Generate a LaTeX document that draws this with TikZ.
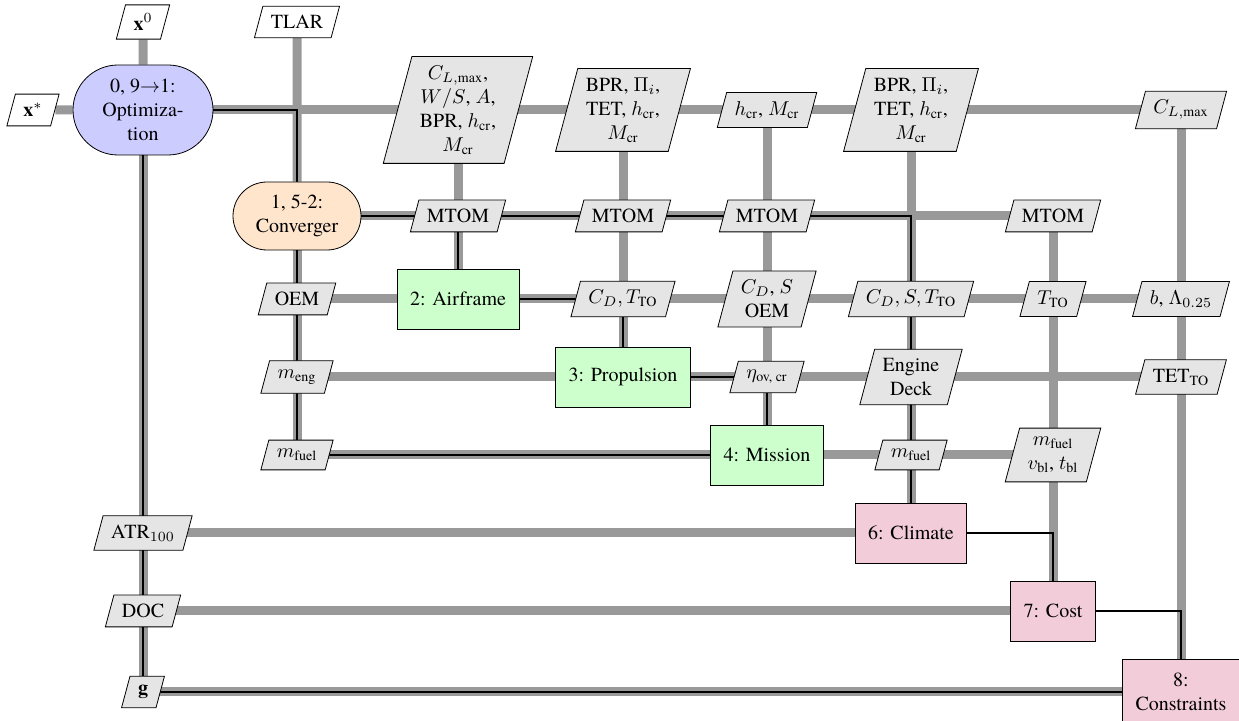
\documentclass[tikz,border=0pt]{standalone}
\usepackage{amsmath}
\usepackage{fontspec}
\IfFontExistsTF{texgyretermes-regular.otf}{%
  \setmainfont{texgyretermes-regular.otf}[BoldFont=texgyretermes-bold.otf,
    ItalicFont=texgyretermes-italic.otf, BoldItalicFont=texgyretermes-bolditalic.otf]}{}
\usepackage{tikz}
\usetikzlibrary{shapes.geometric, shapes.misc, backgrounds}

\colorlet{optblue}{blue!20}
\colorlet{convorange}{orange!20}
\colorlet{funcgreen}{green!20}
\colorlet{postpink}{purple!20}
\colorlet{datagray}{black!10}
\colorlet{linegray}{black!40}

\tikzset{
  optim/.style={rounded rectangle, draw, fill=optblue, align=center,
                minimum width=74pt, minimum height=45pt, inner sep=2pt},
  solver/.style={rounded rectangle, draw, fill=convorange, align=center,
                 minimum width=68pt, minimum height=34pt, inner sep=2pt},
  func/.style={rectangle, draw, fill=funcgreen, align=center,
               minimum height=30pt, inner xsep=6.5pt},
  post/.style={func, fill=postpink},
  datainter/.style={trapezium, trapezium left angle=75, trapezium right angle=105,
                    draw, fill=datagray, align=center, inner xsep=4pt, inner ysep=4.5pt},
  dataio/.style={datainter, fill=white},
  dataline/.style={draw=linegray, line width=4.5pt},
  procline/.style={draw=black, line width=1pt}
}

\begin{document}
\begin{tikzpicture}[x=0.5pt, y=-0.5pt]
    \useasboundingbox (0,0) rectangle (1239,721);

    % diagonal: optimizer, converger and disciplines
    \node[optim] (opt) at (143,110) {0, 9$\to$1:\\Optimiza-\\tion};
    \node[solver] (conv) at (297,216) {1, 5-2:\\Converger};
    \node[func] (airframe) at (458,299) {2: Airframe};
    \node[func] (prop) at (623,377) {3: Propulsion};
    \node[func] (mission) at (767,455) {4: Mission};
    \node[post] (climate) at (911,533) {6: Climate};
    \node[post] (cost) at (1053,611) {7: Cost};
    \node[post, minimum height=33pt] (cons) at (1181,692) {8:\\Constraints};

    % inputs and outputs
    \node[dataio] (x0) at (143,22) {$\mathbf{x}^{0}$};
    \node[dataio] (tlar) at (297,22) {TLAR};
    \node[dataio] (xstar) at (33,110) {$\mathbf{x}^{*}$};

    % row of the optimizer
    \node[datainter] (optair) at (airframe |- opt)
      {$C_{L,\text{max}}$,\\$W/S$, $A$,\\BPR, $h_\text{cr}$,\\$M_\text{cr}$};
    \node[datainter] (optprop) at (prop |- opt) {BPR, $\Pi_i$,\\TET, $h_\text{cr}$,\\$M_\text{cr}$};
    \node[datainter] (optmis) at (mission |- opt) {$h_\text{cr}$, $M_\text{cr}$};
    \node[datainter] (optclim) at (climate |- opt) {BPR, $\Pi_i$,\\TET, $h_\text{cr}$,\\$M_\text{cr}$};
    \node[datainter] (optcons) at (cons |- opt) {$C_{L,\text{max}}$};

    % row of the converger
    \node[datainter] (convair) at (airframe |- conv) {MTOM};
    \node[datainter] (convprop) at (prop |- conv) {MTOM};
    \node[datainter] (convmis) at (mission |- conv) {MTOM};
    \node[datainter] (convcost) at (cost |- conv) {MTOM};

    % row of the airframe
    \node[datainter] (airconv) at (conv |- airframe) {OEM};
    \node[datainter] (airprop) at (prop |- airframe) {$C_D, T_\text{TO}$};
    \node[datainter] (airmis) at (mission |- airframe) {$C_D$, $S$\\OEM};
    \node[datainter] (airclim) at (climate |- airframe) {$C_D, S, T_\text{TO}$};
    \node[datainter] (aircost) at (cost |- airframe) {$T_\text{TO}$};
    \node[datainter] (aircons) at (cons |- airframe) {$b$, $\Lambda_{0.25}$};

    % row of the propulsion
    \node[datainter] (propconv) at (conv |- prop) {$m_\text{eng}$};
    \node[datainter] (propmis) at (mission |- prop) {$\eta_\text{ov, cr}$};
    \node[datainter] (propclim) at (climate |- prop) {Engine\\Deck};
    \node[datainter] (propcons) at (cons |- prop) {TET$_\text{TO}$};

    % row of the mission
    \node[datainter] (misconv) at (conv |- mission) {$m_\text{fuel}$};
    \node[datainter] (misclim) at (climate |- mission) {$m_\text{fuel}$};
    \node[datainter] (miscost) at (cost |- mission) {$m_\text{fuel}$\\$v_\text{bl}$, $t_\text{bl}$};

    % back to the optimizer
    \node[datainter] (climopt) at (opt |- climate) {ATR$_{100}$};
    \node[datainter] (costopt) at (opt |- cost) {DOC};
    \node[datainter] (consopt) at (opt |- cons) {$\mathbf{g}$};

    \begin{scope}[on background layer]
      % data flow
      \draw[dataline] (x0) -- (opt);
      \draw[dataline] (xstar) -- (opt);
      \draw[dataline] (tlar) -- (conv);
      \draw[dataline] (opt) -| (airframe);
      \draw[dataline] (opt) -| (prop);
      \draw[dataline] (opt) -| (mission);
      \draw[dataline] (opt) -| (climate);
      \draw[dataline] (opt) -| (cons);
      \draw[dataline] (conv) -| (airframe);
      \draw[dataline] (conv) -| (prop);
      \draw[dataline] (conv) -| (mission);
      \draw[dataline] (conv) -| (cost);
      \draw[dataline] (airframe) -| (conv);
      \draw[dataline] (airframe) -| (prop);
      \draw[dataline] (airframe) -| (mission);
      \draw[dataline] (airframe) -| (climate);
      \draw[dataline] (airframe) -| (cost);
      \draw[dataline] (airframe) -| (cons);
      \draw[dataline] (prop) -| (conv);
      \draw[dataline] (prop) -| (mission);
      \draw[dataline] (prop) -| (climate);
      \draw[dataline] (prop) -| (cons);
      \draw[dataline] (mission) -| (conv);
      \draw[dataline] (mission) -| (climate);
      \draw[dataline] (mission) -| (cost);
      \draw[dataline] (climate) -| (opt);
      \draw[dataline] (cost) -| (opt);
      \draw[dataline] (cons) -| (opt);

      % process flow
      \draw[procline] (opt) -| (conv);
      \draw[procline] (conv) -| (airframe);
      \draw[procline] (airframe) -| (prop);
      \draw[procline] (prop) -| (mission);
      \draw[procline] (mission) -| (conv);
      \draw[procline] (conv) -| (climate);
      \draw[procline] (climate) -| (cost);
      \draw[procline] (cost) -| (cons);
      \draw[procline] (cons) -| (opt);
    \end{scope}
\end{tikzpicture}
\end{document}
